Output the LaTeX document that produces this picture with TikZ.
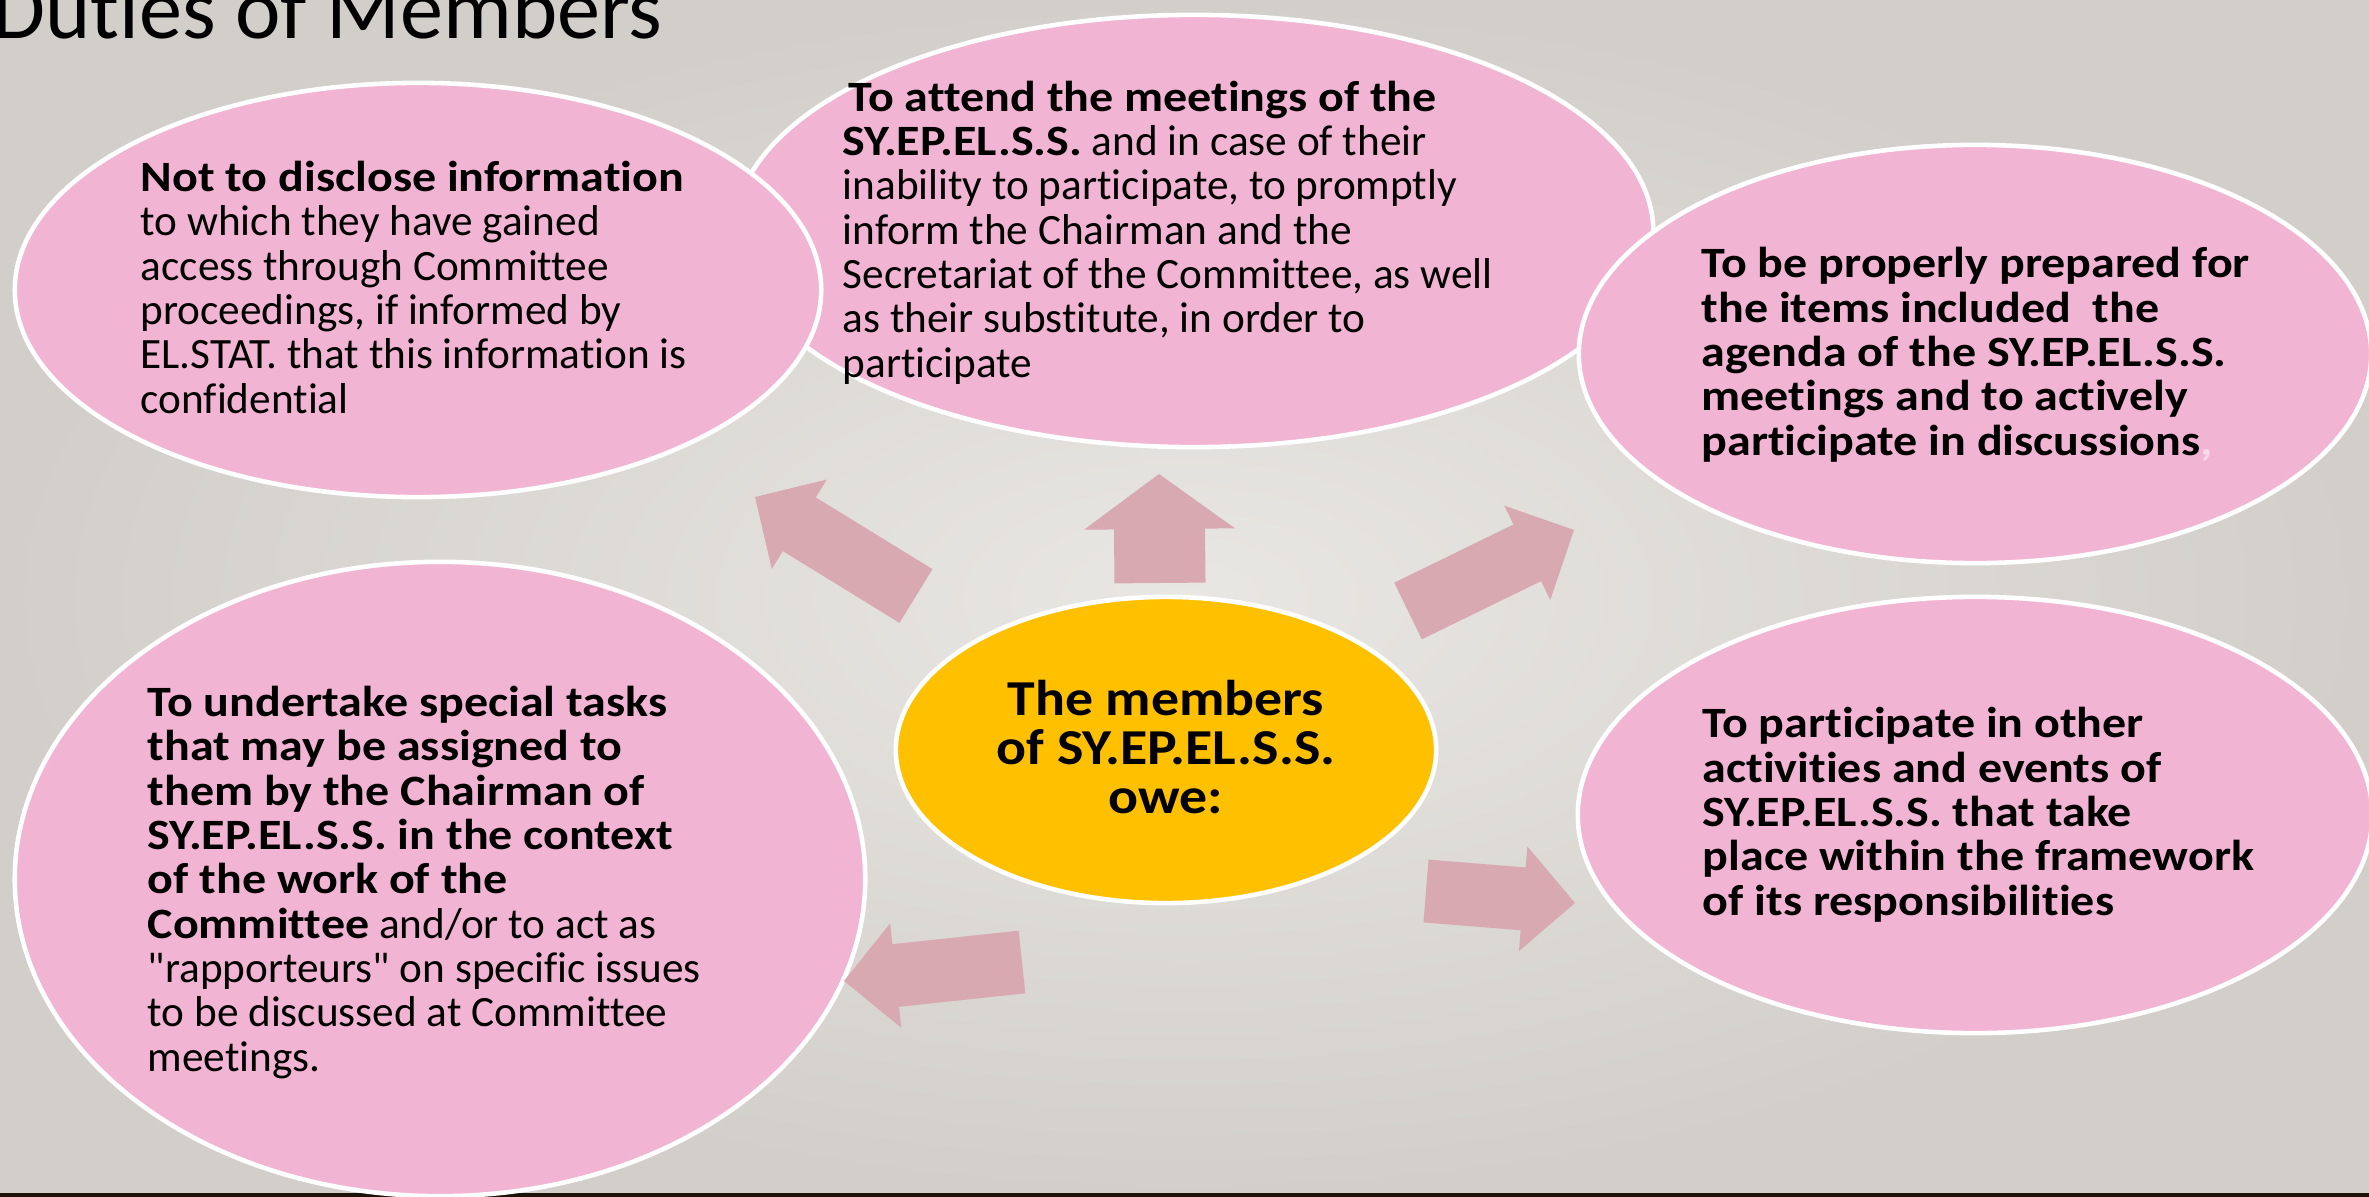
\documentclass[tikz,border=0pt]{standalone}
\usepackage{fontspec}
\setmainfont{Carlito}[Ligatures={TeXOff,CommonOff}, BoldFeatures={FakeStretch=1.11}]
\usetikzlibrary{shapes.geometric,calc}
\definecolor{bglight}{RGB}{233,231,227}
\definecolor{bgdark}{RGB}{210,207,202}
\definecolor{dutypink}{RGB}{242,180,211}
\definecolor{arrowpink}{RGB}{217,169,177}
\definecolor{owegold}{RGB}{255,192,0}

% block arrow: tail, tip, half shaft, half head, head length
\newcommand{\blockarrow}[5]{%
  \coordinate (ab) at ($(#2)!#5!(#1)$);
  \fill[arrowpink] ($(#1)!#3!90:(#2)$) -- ($(ab)!#3!90:(#2)$) -- ($(ab)!#4!90:(#2)$) -- (#2)
    -- ($(ab)!#4!-90:(#2)$) -- ($(ab)!#3!-90:(#2)$) -- ($(#1)!#3!-90:(#2)$) -- cycle;
}

\begin{document}
\begin{tikzpicture}[
    x=0.01cm, y=-0.01cm,
    duty/.style={ellipse, draw=white, line width=1.3pt, fill=dutypink, inner sep=0pt},
    dutytext/.style={anchor=base west, align=left, inner sep=0pt, font=\fontsize{12.3}{12.6}\selectfont},
]
    \useasboundingbox (0,0) rectangle (2369,1197);
    \clip (0,0) rectangle (2369,1197);
    \shade[inner color=bglight, outer color=bgdark] (0,0) rectangle (2369,1197);
    \fill[black!85!brown] (0,1193) rectangle (2369,1197);

    % Title
    \node[anchor=base west, inner sep=0pt, font=\fontsize{24.5}{28}\selectfont] (title) at (-8,39) {Duties of Members};

    % Duties
    \node[duty, minimum width=9.18cm, minimum height=4.32cm] (attend) at (1194,231) {};
    \node[duty, minimum width=8.06cm, minimum height=4.14cm] (disclose) at (418,290) {};
    \node[duty, minimum width=7.92cm, minimum height=4.18cm] (prepare) at (1975,354) {};
    \node[duty, minimum width=8.50cm, minimum height=6.34cm] (tasks) at (440,879) {};
    \node[duty, minimum width=7.94cm, minimum height=4.36cm] (events) at (1975,815) {};

    % Centre
    \node[ellipse, draw=white, line width=1.3pt, fill=owegold, inner sep=0pt,
          minimum width=5.40cm, minimum height=3.06cm] (members) at (1166,750) {};

    % Texts (placed at the baseline of their last line)
    \node[dutytext] (disclosetxt) at (140,413) {
        \textbf{Not to disclose information}\\
        to which they have gained\\
        access through Committee\\
        proceedings, if informed by\\
        EL.STAT. that this information is\\
        confidential
    };
    \node[dutytext] (attendtxt) at (842,377) {
        \hspace{0.06cm}\textbf{To attend the meetings of the}\\
        \textbf{SY.EP.EL.S.S.} and in case of their\\
        inability to participate, to promptly\\
        inform the Chairman and the\\
        Secretariat of the Committee, as well\\
        as their substitute, in order to\\
        participate
    };
    \node[dutytext, font=\fontsize{12.3}{12.6}\selectfont\bfseries] (preparetxt) at (1701,455) {
        To be properly prepared for\\
        the items included\ \ the\\
        agenda of the SY.EP.EL.S.S.\\
        meetings and to actively\\
        participate in discussions{\color{white!50!dutypink},}
    };
    \node[dutytext] (taskstxt) at (147,1071) {
        \textbf{To undertake special tasks}\\
        \textbf{that may be assigned to}\\
        \textbf{them by the Chairman of}\\
        \textbf{SY.EP.EL.S.S. in the context}\\
        \textbf{of the work of the}\\
        \textbf{Committee} and/or to act as\\
        "rapporteurs" on specific issues\\
        to be discussed at Committee\\
        meetings.
    };
    \node[dutytext, font=\fontsize{12.3}{12.6}\selectfont\bfseries] (eventstxt) at (1702,915) {
        To participate in other\\
        activities and events of\\
        SY.EP.EL.S.S. that take\\
        place within the framework\\
        of its responsibilities
    };
    \node[anchor=base, align=center, inner sep=0pt, font=\fontsize{14.3}{13.9}\selectfont\bfseries] (memberstxt) at (1166,813) {
        The members\\
        of SY.EP.EL.S.S.\\
        owe:
    };

    % Arrows
    \coordinate (nwTail) at (916,596);  \coordinate (nwTip) at (755,497);
    \coordinate (upTail) at (1160,583); \coordinate (upTip) at (1159,474);
    \coordinate (neTail) at (1408,611); \coordinate (neTip) at (1574,530);
    \coordinate (eTail) at (1426,891);  \coordinate (eTip) at (1575,903);
    \coordinate (swTail) at (1022,962); \coordinate (swTip) at (844,981);
    \blockarrow{nwTail}{nwTip}{0.315cm}{0.525cm}{0.52cm}
    \blockarrow{upTail}{upTip}{0.455cm}{0.755cm}{0.55cm}
    \blockarrow{neTail}{neTip}{0.315cm}{0.525cm}{0.52cm}
    \blockarrow{eTail}{eTip}{0.315cm}{0.525cm}{0.52cm}
    \blockarrow{swTail}{swTip}{0.315cm}{0.525cm}{0.52cm}
\end{tikzpicture}
\end{document}
